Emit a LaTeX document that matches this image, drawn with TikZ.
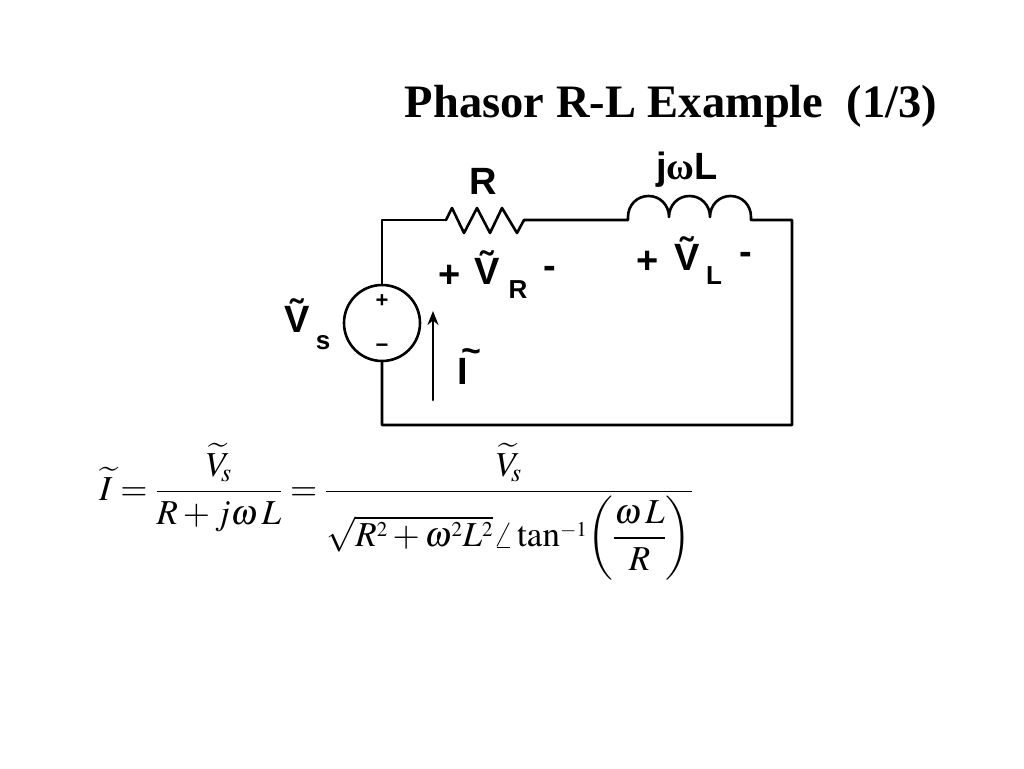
\documentclass[tikz,border=0pt]{standalone}
\usepackage{amsmath}
\usepackage{mathptmx}
\usepackage[no-math]{fontspec}
\setmainfont{Liberation Serif}
\setsansfont{Liberation Sans}
\usetikzlibrary{arrows.meta}
\newcommand{\smsup}[1]{^{\scriptscriptstyle #1}}
\begin{document}
\begin{tikzpicture}[x=1pt,y=-1pt,
  wire/.style={line width=2.6pt,line cap=round,line join=round},
  lbl/.style={inner sep=0pt,font=\fontsize{38}{40}\selectfont\bfseries\sffamily},
  sub/.style={inner sep=0pt,font=\fontsize{26}{28}\selectfont\bfseries\sffamily},
  sgn/.style={inner sep=0pt,font=\fontsize{22}{24}\selectfont\bfseries\sffamily}]
\useasboundingbox[fill=white] (0,0) rectangle (1024,768);
% title
\node[inner sep=0pt,anchor=base,font=\fontsize{46.5}{50}\selectfont\bfseries] (title) at (671,117) {Phasor R-L Example\ \ (1/3)};
% corners
\coordinate (tl) at (382,220);
\coordinate (tr) at (792,220);
\coordinate (br) at (792,425);
\coordinate (bl) at (382,425);
\coordinate (r1) at (446,220);
\coordinate (r2) at (524,220);
\coordinate (l1) at (628,220);
\coordinate (l2) at (751,220);
% source
\node[draw,circle,line width=2.6pt,minimum size=76pt,inner sep=0pt] (src) at (382,323) {};
\node[sgn] (sp) at (382,301) {+};
\node[sgn] (sm) at (382,348) {\textminus};
% wires
\draw[wire] (src.north) -- (tl) -- (r1);
\draw[wire] (r1) -- (452,208) -- (464,233) -- (477,208) -- (490,233) -- (502,208) -- (517,233) -- (r2);
\draw[wire] (r2) -- (l1) -- (628,217)
  .. controls (628,205) and (637,196) .. (648.5,196) .. controls (660,196) and (669,205) .. (669,217)
  .. controls (669,205) and (678,196) .. (689.5,196) .. controls (701,196) and (710,205) .. (710,217)
  .. controls (710,205) and (719,196) .. (730.5,196) .. controls (742,196) and (751,205) .. (751,217)
  -- (l2) -- (tr) -- (br) -- (bl) -- (src.south);
% labels
\node[lbl] (R) at (483,181) {R};
\node[lbl] (jwL) at (687,170) {j{\rmfamily ω}L};
\node[lbl] (pR) at (450,276) {+};
\node[lbl] (VR) at (487,268) {\~V};
\node[sub] (VRs) at (518,290) {R};
\node[lbl] (mR) at (550,272) {-};
\node[lbl] (pL) at (648,262) {+};
\node[lbl] (VL) at (687,254) {\~V};
\node[sub] (VLs) at (714,276) {L};
\node[lbl] (mL) at (746,258) {-};
\node[lbl] (Vs) at (297,316) {\~V};
\node[sub] (Vss) at (323,343) {s};
% current
\coordinate (ia) at (433,400);
\coordinate (ib) at (433,311);
\draw[wire,-{Stealth[length=14pt,width=11pt]}] (ia) -- (ib);
\node[lbl] (I) at (463,371) {I};
\node[inner sep=0pt,font=\fontsize{34}{36}\selectfont\bfseries\sffamily] (It) at (471,356) {\char"7E};
% equation
\node[inner sep=0pt,anchor=base west,font=\fontsize{35}{41}\selectfont] (eq) at (99,500)
 {$\displaystyle \widetilde{I}=\frac{\widetilde{V}_{\!s}}{R+j\omega\,L}=\frac{\widetilde{V}_{\!s}}{\sqrt{R\smsup{2}+\omega\smsup{2}L\smsup{2}}\angle\tan\smsup{-1}\!\left(\dfrac{\omega\,L}{R}\right)}$};
\end{tikzpicture}
\end{document}
